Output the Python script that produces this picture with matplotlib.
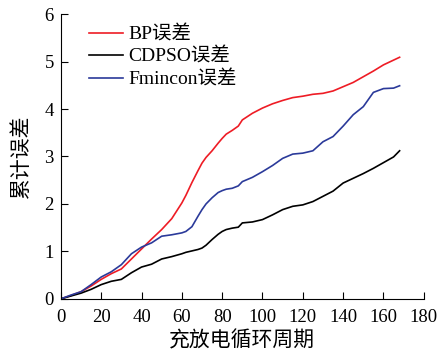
import matplotlib
matplotlib.use("Agg")
import matplotlib.pyplot as plt

plt.rcParams['font.family'] = ['Liberation Serif', 'Noto Sans CJK SC']

cycles = [0, 5, 10, 15, 20, 25, 30, 35, 40, 45, 50, 55, 60, 62, 65, 68, 70, 72, 75, 78, 80, 82,
          85, 88, 90, 95, 100, 105, 110, 115, 120, 125, 130, 135, 140, 145, 150, 155, 160,
          165, 168]

bp_err = [0, 0.07, 0.15, 0.27, 0.41, 0.53, 0.63, 0.84, 1.05, 1.26, 1.46, 1.69, 2.02, 2.18,
          2.45, 2.70, 2.86, 2.98, 3.12, 3.28, 3.38, 3.47, 3.55, 3.64, 3.77, 3.91, 4.02, 4.11,
          4.18, 4.24, 4.27, 4.31, 4.33, 4.38, 4.47, 4.56, 4.68, 4.80, 4.93, 5.03, 5.09]

cdpso_err = [0, 0.06, 0.12, 0.20, 0.30, 0.37, 0.41, 0.55, 0.67, 0.73, 0.84, 0.89, 0.95, 0.98,
             1.01, 1.04, 1.07, 1.13, 1.25, 1.36, 1.42, 1.46, 1.49, 1.51, 1.60, 1.62, 1.67,
             1.77, 1.88, 1.95, 1.98, 2.05, 2.16, 2.27, 2.44, 2.54, 2.64, 2.75, 2.87, 2.99, 3.12]

fmin_err = [0, 0.08, 0.15, 0.30, 0.46, 0.57, 0.72, 0.95, 1.09, 1.18, 1.32, 1.35, 1.39, 1.42,
            1.52, 1.74, 1.88, 2.00, 2.13, 2.24, 2.28, 2.31, 2.33, 2.38, 2.47, 2.56, 2.68, 2.81,
            2.96, 3.05, 3.07, 3.12, 3.31, 3.42, 3.64, 3.88, 4.05, 4.35, 4.43, 4.44, 4.49]

fig = plt.figure(figsize=(4.41, 3.52), dpi=100)
ax = fig.add_axes([0.138, 0.151, 0.823, 0.809])

ax.plot(cycles, bp_err, color='#ee1c25', lw=1.2, label='BP误差')
ax.plot(cycles, cdpso_err, color='black', lw=1.2, label='CDPSO误差')
ax.plot(cycles, fmin_err, color='#2b3a9a', lw=1.2, label='Fmincon误差')

ax.set_xlim(0, 180)
ax.set_ylim(0, 6)
ax.set_xticks(range(0, 181, 20))
ax.set_yticks(range(0, 7))
ax.spines['top'].set_visible(False)
ax.spines['right'].set_visible(False)
ax.tick_params(direction='in', labelsize=13.5, length=5)
ax.tick_params(axis='x', pad=7)
ax.tick_params(axis='y', pad=5)
ax.set_xlabel('充放电循环周期', fontsize=15, labelpad=4)
ax.set_ylabel('累计误差', fontsize=15, labelpad=9)

ax.legend(loc='upper left', bbox_to_anchor=(0.045, 1.0), frameon=False, fontsize=14,
          handlelength=1.75, handletextpad=0.3, labelspacing=0.22, borderaxespad=0.2)

fig.savefig('out.png', dpi=100)
